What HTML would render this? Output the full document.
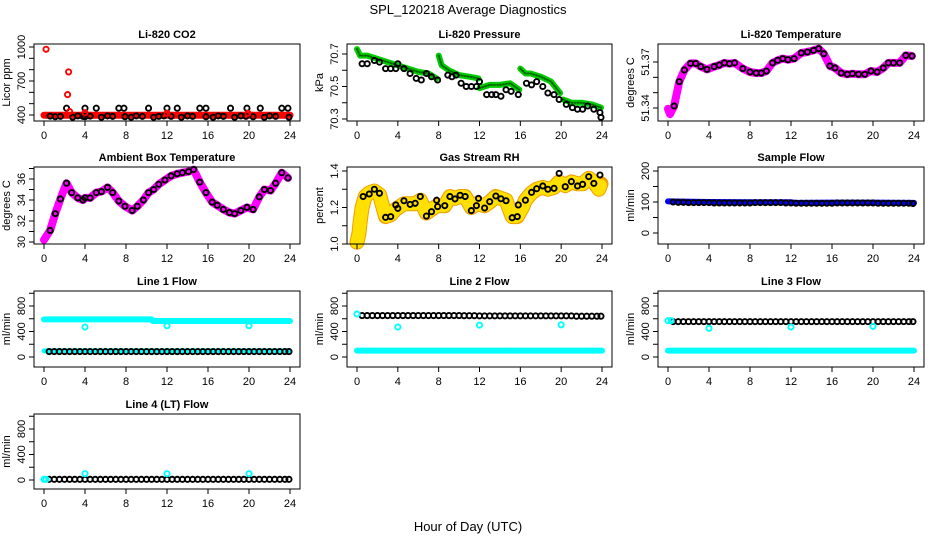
<!DOCTYPE html>
<html><head><meta charset="utf-8"><style>
body{margin:0;background:#fff}
svg{display:block;font-family:"Liberation Sans",sans-serif}
</style></head><body>
<svg id="c" width="936" height="540" viewBox="0 0 936 540">
<text x="468" y="14" text-anchor="middle" font-size="13">SPL_120218  Average Diagnostics</text>
<text x="468" y="531" text-anchor="middle" font-size="13">Hour of Day (UTC)</text>
</svg>
<script>
// ---- data ----
const xTicks=[0,4,8,12,16,20,24];
const co2BaseHours=[0.6,1.1,1.6,2.8,3.3,3.8,4,4.5,5.6,6.2,6.7,7.9,8.5,9,9.6,10.7,11.2,11.7,12.4,13.4,14,14.5,15.8,16.5,17,17.5,18.6,19.2,19.7,20.4,21.5,22,22.6,23.9];
const co2BaseVals=[390,385,388,380,392,388,385,390,380,392,388,385,380,392,388,380,388,392,388,380,392,388,385,380,392,388,380,392,388,385,380,392,388,380];
const co2HiHours=[2.2,4,5.1,7.3,7.8,10.2,12,13,15.2,15.8,18.2,19.8,21.1,23.2,23.8];
const co2HiVals=[460,460,460,460,460,460,460,460,460,460,460,460,460,460,460];
const co2RedHours=[0,24];
const co2RedVals=[398,398];
const co2OutHours=[0.2,2.4,2.3,2.5,4,12,19.9];
const co2OutVals=[980,780,580,430,420,415,415];

const presGreenHours=[0,0.3,1,2,3,4,5,6,7,7.8,null,8,8.3,9,10,11,11.9,null,12,13,14,15,15.9,null,16,16.5,17,18,19,19.9,null,20.2,21,22,23,23.9];
const presGreenVals=[70.73,70.69,70.69,70.67,70.65,70.63,70.61,70.59,70.58,70.55,null,70.69,70.63,70.60,70.57,70.56,70.55,null,70.49,70.51,70.51,70.52,70.48,null,70.61,70.58,70.58,70.56,70.53,70.46,null,70.42,70.40,70.40,70.39,70.37];
const presBlackHours=[0.5,1,1.7,2.2,2.8,3.3,3.8,4,4.6,5.2,5.8,6.3,6.8,7.3,7.9,8.9,9.3,9.7,10.2,10.7,11.2,11.7,12,12.7,13.2,13.6,14.1,14.6,15.1,15.8,16.6,17.1,17.6,18.2,18.7,19.3,19.8,20.5,21.1,21.6,22.1,22.6,23.2,23.8,23.9];
const presBlackVals=[70.64,70.64,70.66,70.65,70.61,70.61,70.61,70.64,70.61,70.58,70.55,70.54,70.58,70.56,70.54,70.57,70.56,70.57,70.52,70.50,70.50,70.50,70.53,70.45,70.45,70.45,70.44,70.48,70.47,70.45,70.52,70.51,70.53,70.50,70.46,70.45,70.42,70.39,70.37,70.36,70.36,70.38,70.36,70.34,70.31];

const tempHours=[0.6,1.1,1.6,2.2,2.7,3.2,3.8,4.5,5,5.5,6,6.5,7.3,8,8.6,9.1,9.6,10.2,10.7,11.2,11.7,12.3,13,13.6,14.2,14.7,15.2,15.8,16.3,16.9,17.5,18,18.6,19.2,19.8,20.4,21,21.5,22,22.6,23.2,23.8];
const tempVals=[51.3413,51.3572,51.3648,51.3691,51.3691,51.3670,51.3652,51.3670,51.3680,51.3694,51.3689,51.3694,51.3657,51.3635,51.3628,51.3628,51.3641,51.3694,51.3711,51.3722,51.3715,51.3722,51.3759,51.3765,51.3776,51.3787,51.3754,51.3674,51.3661,51.3628,51.3620,51.3624,51.3620,51.3620,51.3641,51.3635,51.3661,51.3694,51.3694,51.3694,51.3743,51.3739];
const tempBandHours=[0,0.2,0.6,1.1,1.6,2.2,2.7,3.2,3.8,4.5,5,5.5,6,6.5,7.3,8,8.6,9.1,9.6,10.2,10.7,11.2,11.7,12.3,13,13.6,14.2,14.7,15.2,15.8,16.3,16.9,17.5,18,18.6,19.2,19.8,20.4,21,21.5,22,22.6,23.2,23.8];
const tempBandVals=[51.3395,51.3360,51.3413,51.3572,51.3648,51.3691,51.3691,51.3670,51.3652,51.3670,51.3680,51.3694,51.3689,51.3694,51.3657,51.3635,51.3628,51.3628,51.3641,51.3694,51.3711,51.3722,51.3715,51.3722,51.3759,51.3765,51.3776,51.3787,51.3754,51.3674,51.3661,51.3628,51.3620,51.3624,51.3620,51.3620,51.3641,51.3635,51.3661,51.3694,51.3694,51.3694,51.3743,51.3739];

const ambHours=[0,0.6,1.1,1.6,2.2,2.7,3.3,3.8,4,4.5,5.1,5.6,6.2,6.7,7.3,7.9,8.6,9.1,9.7,10.2,10.7,11.2,11.8,12.4,13,13.5,14.1,14.6,15.2,15.8,16.4,16.9,17.5,18.1,18.6,19.2,19.8,20.4,21,21.5,22.1,22.6,23.2,23.8];
const ambVals=[30.2,31.1,32.7,34.1,35.6,34.7,34.2,34.0,34.2,34.2,34.7,34.8,35.2,34.7,33.9,33.4,33.0,33.4,34.0,34.7,35.0,35.5,35.9,36.3,36.5,36.6,36.7,36.9,35.7,34.7,33.8,33.5,33.1,32.8,32.7,33.0,33.3,33.1,34.3,35.0,34.9,35.6,36.6,36.1];

const rhHours=[0.6,1.2,1.7,2.2,2.8,3.3,3.8,4,4.6,5.2,5.7,6.2,6.8,7.3,7.8,7.9,8.6,9.1,9.6,10.1,10.6,11.2,11.7,11.9,12.5,13,13.6,14.1,14.6,15.2,15.7,15.8,16.5,17.1,17.6,18.2,18.7,19.3,19.8,20.4,21,21.6,22.1,22.7,23.2,23.8];
const rhVals=[1.26,1.274,1.30,1.278,1.146,1.15,1.214,1.195,1.237,1.217,1.223,1.26,1.153,1.177,1.24,1.205,1.21,1.26,1.247,1.267,1.26,1.183,1.21,1.25,1.197,1.232,1.263,1.248,1.237,1.144,1.15,1.214,1.24,1.283,1.303,1.318,1.30,1.305,1.387,1.314,1.342,1.318,1.327,1.369,1.332,1.378];
const rhBandHours=[0,0.2,0.3,0.5,0.8,1.2,1.7,2.2,2.8,3.3,3.8,4.6,5.2,5.7,6.2,6.8,7.3,7.9,8.6,9.1,9.6,10.1,10.6,11.2,11.7,12.5,13,13.6,14.1,14.6,15.2,15.7,16.2,16.5,17.1,17.6,18.2,18.7,19.3,19.8,20.4,21,21.6,22.1,22.7,23.2,23.7,23.9];
const rhBandVals=[1.01,1.06,1.12,1.20,1.26,1.28,1.29,1.27,1.15,1.16,1.19,1.22,1.22,1.22,1.24,1.17,1.19,1.21,1.21,1.26,1.25,1.26,1.26,1.20,1.22,1.21,1.23,1.26,1.25,1.24,1.15,1.15,1.20,1.24,1.28,1.30,1.31,1.30,1.31,1.34,1.32,1.34,1.33,1.33,1.36,1.34,1.30,1.33];

const flowHours=[0.5,1,1.5,2,2.5,3,3.5,4,4.5,5,5.5,6,6.5,7,7.5,8,8.5,9,9.5,10,10.5,11,11.5,12,12.5,13,13.5,14,14.5,15,15.5,16,16.5,17,17.5,18,18.5,19,19.5,20,20.5,21,21.5,22,22.5,23,23.5,23.9];
const sampleVals=[100,99,99,98,98,98,98,98,97,97,97,97,97,97,97,97,98,98,98,98,98,98,97,97,96,96,96,96,96,96,96,96,97,97,97,97,97,97,97,97,96,96,96,96,96,96,96,95];
const sampleBandHours=[0,4,8,12,12.5,16,20,24];
const sampleBandVals=[102,100,99,99,97,98,98,97];

const line1Black=[85,85,85,85,85,85,85,85,85,85,85,85,85,85,85,85,85,85,85,85,85,85,85,85,85,85,85,85,85,85,85,85,85,85,85,85,85,85,85,85,85,85,85,85,85,85,85,85];
const line1CyanHours=[0,10.5,10.6,24];
const line1CyanVals=[590,590,565,565];
const line1LowHours=[0,24];
const line1LowVals=[95,95];
const line1OutHours=[4,12,20];
const line1OutVals=[470,490,490];

const line2Black=[650,650,650,650,650,650,650,650,650,650,650,650,650,650,650,650,650,650,650,650,648,648,648,645,645,645,645,645,645,645,645,645,645,645,645,645,645,645,645,645,645,645,640,640,640,640,640,640];
const line2LowHours=[0,24];
const line2LowVals=[100,100];
const line2OutHours=[0,4,12,20];
const line2OutVals=[675,470,500,505];

const line3Black=[555,555,555,555,555,555,555,555,555,555,555,555,555,555,555,555,555,555,555,555,555,555,555,555,555,555,555,555,555,555,555,555,555,555,555,555,555,555,555,555,555,555,555,555,555,555,555,555];
const line3LowHours=[0,24];
const line3LowVals=[100,100];
const line3OutHours=[0,0.3,4,12,20];
const line3OutVals=[570,570,450,470,480];

const line4Black=[10,10,10,10,10,10,10,10,10,10,10,10,10,10,10,10,10,10,10,10,10,10,10,10,10,10,10,10,10,10,10,10,10,10,10,10,10,10,10,10,10,10,10,10,10,10,10,10];
const line4OutHours=[0,0.2,4,12,20];
const line4OutVals=[10,10,100,100,100];

const flowTicks=[0,200,400,600,800,1000];
const flowLabels=[0,400,800];

// ---- layout ----
const svg=document.getElementById('c');
const NS='http://www.w3.org/2000/svg';
function mk(tag,attrs,parent){const e=document.createElementNS(NS,tag);for(const k in attrs)e.setAttribute(k,attrs[k]);(parent||svg).appendChild(e);return e;}
const cols=[[34,300],[347,612],[658,924]];
const rows=[[44,121],[167,244],[291,367],[414,489]];

function panel(opt){
  const [bx0,bx1]=cols[opt.col],[by0,by1]=rows[opt.row];
  const g=mk('g',{});
  
  
  const xs=h=>bx0+10+(h/24)*(bx1-bx0-20);
  const ys=v=>opt.y1+(v-opt.v1)*(opt.y2-opt.y1)/(opt.v2-opt.v1);
  opt.draw(g,xs,ys);
  const b=mk('rect',{x:bx0,y:by0,width:bx1-bx0,height:by1-by0,fill:'none',stroke:'#000','stroke-width':1},g);
  
  
  xTicks.forEach(t=>{const x=xs(t);
    mk('line',{x1:x,x2:x,y1:by1,y2:by1+5,stroke:'#000'},g);
    const tx=mk('text',{x:x,y:by1+18,'text-anchor':'middle','font-size':11},g);tx.textContent=t;
    
    
  });
  opt.yticks.forEach(t=>{const y=ys(t);mk('line',{x1:bx0,x2:bx0-5,y1:y,y2:y,stroke:'#000'},g);});
  opt.ylabels.forEach(t=>{const y=ys(t);
    const tx=mk('text',{x:0,y:0,transform:`translate(${bx0-9},${y}) rotate(-90)`,'text-anchor':'middle','font-size':11},g);tx.textContent=t;
    
    
  });
  const yt=mk('text',{x:0,y:0,transform:`translate(${bx0-24},${(by0+by1)/2}) rotate(-90)`,'text-anchor':'middle','font-size':11},g);yt.textContent=opt.ytitle;
  
  
  const tt=mk('text',{x:(bx0+bx1)/2,y:by0-6,'text-anchor':'middle','font-size':11,'font-weight':'bold'},g);tt.textContent=opt.title;
  
  
}
function band(g,xs,ys,hours,vals,color,w,name){
  let d='',pen=false;
  hours.forEach((h,i)=>{if(h===null||vals[i]===null){pen=false;return;}
    d+=(pen?'L':'M')+xs(h).toFixed(1)+' '+ys(vals[i]).toFixed(1);pen=true;});
  const p=mk('path',{d:d,fill:'none',stroke:color,'stroke-width':w,'stroke-linejoin':'round','stroke-linecap':'round'},g);
  
  
  return p;
}
function pts(g,xs,ys,hours,vals,color,name,r){
  hours.forEach((h,i)=>{
    const c=mk('circle',{cx:xs(h),cy:ys(vals[i]),r:r||2.6,fill:'none',stroke:color,'stroke-width':1.9},g);
    
    
  });
}

panel({name:'panel-co2',col:0,row:0,title:'Li-820 CO2',ytitle:'Licor ppm',v1:400,y1:115,v2:1000,y2:47,
  yticks:[400,500,600,700,800,900,1000],ylabels:[400,700,1000],
  draw:(g,xs,ys)=>{band(g,xs,ys,co2RedHours,co2RedVals,'#f00',7,'co2-red-band');
    pts(g,xs,ys,co2BaseHours,co2BaseVals,'#000','co2-point');pts(g,xs,ys,co2HiHours,co2HiVals,'#000','co2-point');
    pts(g,xs,ys,co2OutHours,co2OutVals,'#f00','co2-red-point');}});
panel({name:'panel-pressure',col:1,row:0,title:'Li-820 Pressure',ytitle:'kPa',v1:70.3,y1:119,v2:70.7,y2:54,
  yticks:[70.3,70.4,70.5,70.6,70.7],ylabels:[70.3,70.5,70.7],
  draw:(g,xs,ys)=>{band(g,xs,ys,presGreenHours,presGreenVals,'#0c0',6,'pressure-green-band');
    band(g,xs,ys,presGreenHours,presGreenVals,'#060',2,'pressure-green-dots').setAttribute('stroke-dasharray','1 2');
    pts(g,xs,ys,presBlackHours,presBlackVals,'#000','pressure-point');}});
panel({name:'panel-li820-temp',col:2,row:0,title:'Li-820 Temperature',ytitle:'degrees C',v1:51.34,y1:108,v2:51.37,y2:62,
  yticks:[51.34,51.35,51.36,51.37],ylabels:[51.34,51.37],
  draw:(g,xs,ys)=>{band(g,xs,ys,tempBandHours,tempBandVals,'#f0f',8,'temp-magenta-band');
    pts(g,xs,ys,tempHours,tempVals,'#000','temp-point');}});
panel({name:'panel-ambient',col:0,row:1,title:'Ambient Box Temperature',ytitle:'degrees C',v1:36,y1:179,v2:30,y2:242,
  yticks:[30,31,32,33,34,35,36,37],ylabels:[30,32,34,36],
  draw:(g,xs,ys)=>{band(g,xs,ys,ambHours,ambVals,'#f0f',8,'ambient-magenta-band');
    pts(g,xs,ys,ambHours.slice(1),ambVals.slice(1),'#000','ambient-point');}});
panel({name:'panel-rh',col:1,row:1,title:'Gas Stream RH',ytitle:'percent',v1:1.4,y1:171,v2:1.0,y2:244,
  yticks:[1.0,1.1,1.2,1.3,1.4],ylabels:['1.0','1.2','1.4'],
  draw:(g,xs,ys)=>{band(g,xs,ys,rhBandHours,rhBandVals,'#f0a000',15,'rh-orange-band');
    band(g,xs,ys,rhBandHours,rhBandVals,'#ffe000',13,'rh-yellow-band').setAttribute('stroke-dasharray','1 2');
    pts(g,xs,ys,rhHours,rhVals,'#000','rh-point');}});
panel({name:'panel-sample-flow',col:2,row:1,title:'Sample Flow',ytitle:'ml/min',v1:200,y1:171,v2:0,y2:233,
  yticks:[0,50,100,150,200],ylabels:[0,100,200],
  draw:(g,xs,ys)=>{band(g,xs,ys,sampleBandHours,sampleBandVals,'#00f',6,'sample-blue-band');
    pts(g,xs,ys,flowHours,sampleVals,'#000','sample-point');}});
panel({name:'panel-line1',col:0,row:2,title:'Line 1 Flow',ytitle:'ml/min',v1:0,y1:357,v2:800,y2:306,
  yticks:flowTicks,ylabels:flowLabels,
  draw:(g,xs,ys)=>{band(g,xs,ys,line1CyanHours,line1CyanVals,'#0ff',6,'line1-cyan-band');
    band(g,xs,ys,line1LowHours,line1LowVals,'#0ff',5,'line1-cyan-low');
    pts(g,xs,ys,flowHours,line1Black,'#000','line1-point');
    pts(g,xs,ys,line1OutHours,line1OutVals,'#0ff','line1-cyan-point');}});
panel({name:'panel-line2',col:1,row:2,title:'Line 2 Flow',ytitle:'ml/min',v1:0,y1:357,v2:800,y2:306,
  yticks:flowTicks,ylabels:flowLabels,
  draw:(g,xs,ys)=>{band(g,xs,ys,line2LowHours,line2LowVals,'#0ff',6,'line2-cyan-band');
    pts(g,xs,ys,flowHours,line2Black,'#000','line2-point');
    pts(g,xs,ys,line2OutHours,line2OutVals,'#0ff','line2-cyan-point');}});
panel({name:'panel-line3',col:2,row:2,title:'Line 3 Flow',ytitle:'ml/min',v1:0,y1:357,v2:800,y2:306,
  yticks:flowTicks,ylabels:flowLabels,
  draw:(g,xs,ys)=>{band(g,xs,ys,line3LowHours,line3LowVals,'#0ff',6,'line3-cyan-band');
    pts(g,xs,ys,flowHours,line3Black,'#000','line3-point');
    pts(g,xs,ys,line3OutHours,line3OutVals,'#0ff','line3-cyan-point');}});
panel({name:'panel-line4',col:0,row:3,title:'Line 4 (LT) Flow',ytitle:'ml/min',v1:0,y1:480,v2:800,y2:429,
  yticks:flowTicks,ylabels:flowLabels,
  draw:(g,xs,ys)=>{pts(g,xs,ys,flowHours,line4Black,'#000','line4-point');
    pts(g,xs,ys,line4OutHours,line4OutVals,'#0ff','line4-cyan-point');}});
</script>
</body></html>
